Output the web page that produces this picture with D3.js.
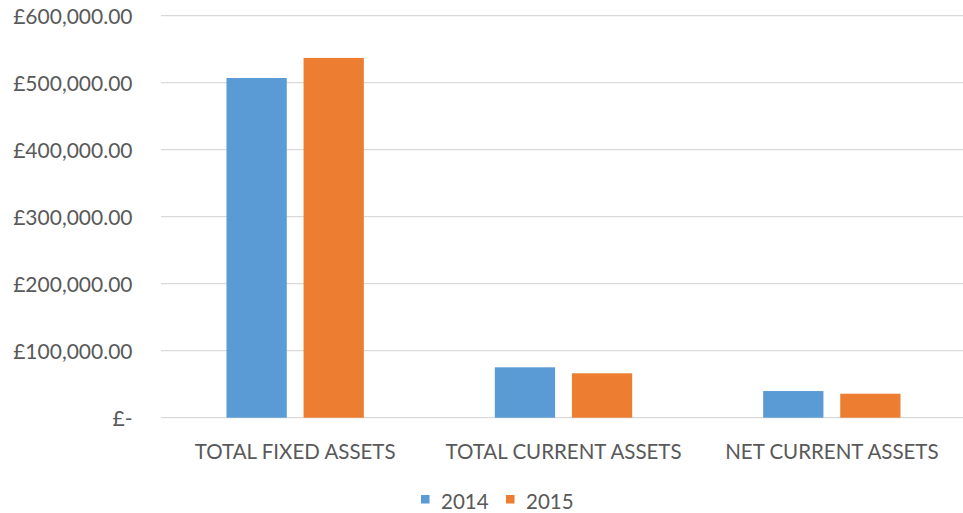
<!DOCTYPE html>
<html>
<head>
<meta charset="utf-8">
<script src="https://cdn.jsdelivr.net/npm/d3@7"></script>
<style>
  html, body { margin: 0; padding: 0; background: #fff; }
  svg { display: block; }
  text { font-family: Lato, "Open Sans", sans-serif; fill: #595959; }
</style>
</head>
<body>
<svg id="chart" width="963" height="513"></svg>
<script>
const categories = ["TOTAL FIXED ASSETS", "TOTAL CURRENT ASSETS", "NET CURRENT ASSETS"];
const seriesNames = ["2014", "2015"];
const values2014 = [507000, 75200, 39800];
const values2015 = [537000, 66300, 35800];
const yTicks = [0, 100000, 200000, 300000, 400000, 500000, 600000];
const colors = ["#5B9BD5", "#ED7D31"];

const seriesValues = [values2014, values2015];
const data = categories.map((c, i) => ({
  category: c,
  values: seriesNames.map((s, j) => ({ series: s, value: seriesValues[j][i], color: colors[j] }))
}));

const svg = d3.select("#chart");
const W = 963, H = 513;
const plotLeft = 161, plotRight = 966, plotTop = 15.7, plotBottom = 417.7;

const y = d3.scaleLinear().domain([0, 600000]).range([plotBottom, plotTop]);
const x0 = d3.scaleBand().domain(categories).range([plotLeft, plotRight]).paddingInner(0).paddingOuter(0);
const outer = 65.5;
const x1 = d3.scaleBand().domain(seriesNames).range([outer, x0.bandwidth() - outer]).paddingInner(0.218).paddingOuter(0);

const fmt = v => v === 0 ? "£-" : "£" + d3.format(",.2f")(v);

// gridlines
svg.append("g").selectAll("line").data(yTicks).join("line")
  .attr("x1", plotLeft).attr("x2", W)
  .attr("y1", d => y(d)).attr("y2", d => y(d))
  .attr("stroke", "#d9d9d9").attr("stroke-width", 1.3);

// y axis labels via axis generator
const yAxis = d3.axisLeft(y).tickValues(yTicks).tickFormat(fmt).tickSize(0).tickPadding(0);
const gy = svg.append("g").attr("transform", "translate(132.5,0)").call(yAxis);
gy.select(".domain").remove();
gy.selectAll("text")
  .attr("font-family", "Lato, 'Open Sans', sans-serif")
  .attr("font-size", 21)
  .attr("fill", "#595959")
  .attr("dy", "0.36em");

// bars
const groups = svg.append("g").selectAll("g").data(data).join("g")
  .attr("transform", d => `translate(${x0(d.category)},0)`);
groups.selectAll("rect").data(d => d.values).join("rect")
  .attr("x", d => x1(d.series))
  .attr("width", x1.bandwidth())
  .attr("y", d => y(d.value))
  .attr("height", d => y(0) - y(d.value))
  .attr("fill", d => d.color);

// x axis labels
const xAxis = d3.axisBottom(x0).tickSize(0).tickPadding(0);
const gx = svg.append("g").attr("transform", "translate(0,459)").call(xAxis);
gx.select(".domain").remove();
gx.selectAll("text")
  .attr("font-family", "Lato, 'Open Sans', sans-serif")
  .attr("font-size", 20.5)
  .attr("fill", "#595959")
  .attr("dy", 0)
  .attr("y", 0);

// legend
const legendItems = [
  { name: seriesNames[0], color: colors[0], sx: 421, tx: 441 },
  { name: seriesNames[1], color: colors[1], sx: 506, tx: 526 }
];
const lg = svg.append("g");
legendItems.forEach(it => {
  lg.append("rect").attr("x", it.sx).attr("y", 495).attr("width", 8.5).attr("height", 8.5).attr("fill", it.color);
  lg.append("text").attr("x", it.tx).attr("y", 508.5).attr("font-size", 20.5).text(it.name);
});
</script>
</body>
</html>
